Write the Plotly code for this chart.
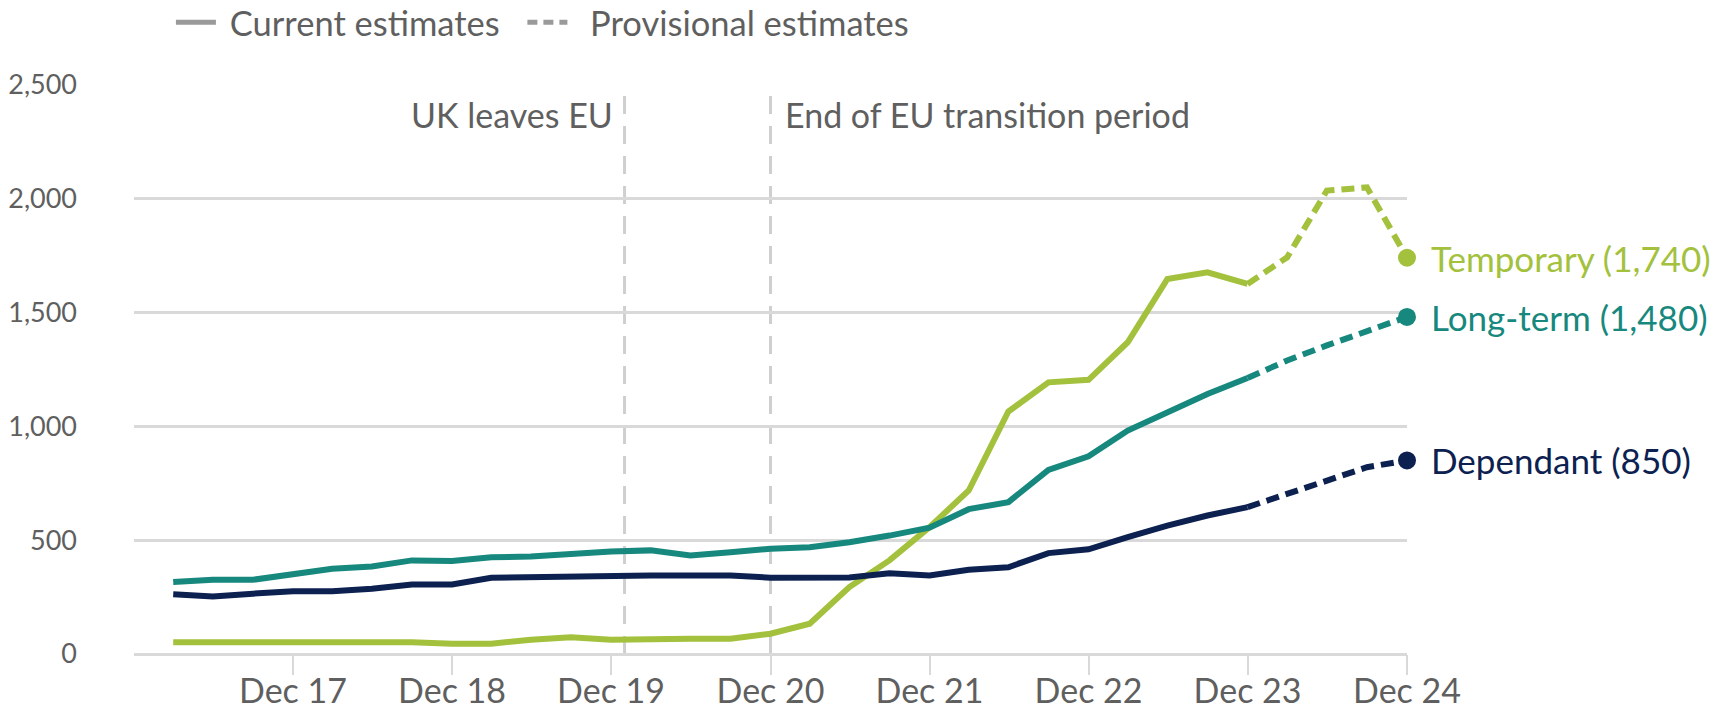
import plotly.graph_objects as go

# quarter-end dates, Mar 2017 to Dec 2024
quarters = [
    "2017-03-31", "2017-06-30", "2017-09-30", "2017-12-31",
    "2018-03-31", "2018-06-30", "2018-09-30", "2018-12-31",
    "2019-03-31", "2019-06-30", "2019-09-30", "2019-12-31",
    "2020-03-31", "2020-06-30", "2020-09-30", "2020-12-31",
    "2021-03-31", "2021-06-30", "2021-09-30", "2021-12-31",
    "2022-03-31", "2022-06-30", "2022-09-30", "2022-12-31",
    "2023-03-31", "2023-06-30", "2023-09-30", "2023-12-31",
    "2024-03-31", "2024-06-30", "2024-09-30", "2024-12-31",
]
# last 4 quarters are provisional
n_provisional = 4

temporary = [52, 52, 52, 52, 52, 52, 52, 45, 45, 63, 74, 63,
             67, 67, 67, 89, 133, 294, 411, 557, 718, 1065, 1193, 1204,
             1369, 1647, 1676, 1625, 1742, 2035, 2049, 1740]
long_term = [316, 326, 326, 352, 374, 384, 411, 408, 425, 428, 440, 450,
             455, 433, 447, 462, 469, 491, 520, 555, 636, 667, 808, 868,
             981, 1062, 1142, 1212, 1289, 1355, 1420, 1480]
dependant = [262, 253, 265, 276, 276, 287, 305, 305, 335, 338, 345, 345,
             345, 345, 345, 335, 335, 336, 355, 345, 370, 381, 443, 460,
             513, 564, 608, 645, 703, 755, 820, 850]

series_names = ["Temporary", "Long-term", "Dependant"]
series_values = [temporary, long_term, dependant]
series_colors = ["#a3c13c", "#17887e", "#0c2150"]

events = ["2020-01-31", "2020-12-31"]
event_labels = ["UK leaves EU", "End of EU transition period"]

tick_dates = ["2017-12-31", "2018-12-31", "2019-12-31", "2020-12-31",
              "2021-12-31", "2022-12-31", "2023-12-31", "2024-12-31"]
tick_labels = ["Dec 17", "Dec 18", "Dec 19", "Dec 20",
               "Dec 21", "Dec 22", "Dec 23", "Dec 24"]

FONT = "Lato"
GREY_TXT = "#5f5f5f"
GRID = "#d9d9d9"

fig = go.Figure()

split = len(quarters) - n_provisional - 1
for name, vals, col in zip(series_names, series_values, series_colors):
    fig.add_trace(go.Scatter(x=quarters[:split + 1], y=vals[:split + 1], mode="lines",
                             line=dict(color=col, width=6), showlegend=False,
                             hoverinfo="skip"))
    fig.add_trace(go.Scatter(x=quarters[split:], y=vals[split:], mode="lines",
                             line=dict(color=col, width=6, dash="13px,7px"),
                             showlegend=False, hoverinfo="skip"))
    fig.add_trace(go.Scatter(x=[quarters[-1]], y=[vals[-1]], mode="markers",
                             marker=dict(color=col, size=18), showlegend=False,
                             cliponaxis=False, hoverinfo="skip"))
    fig.add_annotation(x=quarters[-1], y=vals[-1], text=f"{name} ({vals[-1]:,})",
                       showarrow=False, xanchor="left", xshift=22,
                       font=dict(family=FONT, size=35, color=col))

# legend-only entries
fig.add_trace(go.Scatter(x=[None], y=[None], mode="lines",
                         name="\u00a0Current estimates\u00a0\u00a0",
                         line=dict(color="#9a9a9a", width=5)))
fig.add_trace(go.Scatter(x=[None], y=[None], mode="lines",
                         name="\u00a0\u00a0Provisional estimates",
                         line=dict(color="#9a9a9a", width=5, dash="10px,6px")))

for d, lab, side in zip(events, event_labels, ["right", "left"]):
    fig.add_shape(type="line", xref="x", yref="y", x0=d, x1=d, y0=0, y1=2500,
                  line=dict(color="#cfcfcf", width=3, dash="18px,12px"), layer="below")
    fig.add_annotation(x=d, y=2370, text=lab, showarrow=False, xanchor=side,
                       xshift=-10 if side == "right" else 12,
                       font=dict(family=FONT, size=34, color=GREY_TXT))

fig.update_xaxes(
    type="date", automargin=False,
    range=["2016-12-31", "2024-12-31"],
    tickmode="array", tickvals=tick_dates, ticktext=tick_labels,
    showgrid=False, showline=False, zeroline=False,
    ticks="outside", ticklen=20, tickwidth=2, tickcolor=GRID,
    ticklabelstandoff=-13,
    tickfont=dict(family=FONT, size=34, color=GREY_TXT),
)
fig.update_yaxes(
    automargin=False,
    range=[0, 2503], tickvals=[0, 500, 1000, 1500, 2000, 2500], tickformat=",",
    showgrid=True, gridcolor=GRID, gridwidth=3,
    zeroline=True, zerolinecolor=GRID, zerolinewidth=3,
    showline=False, ticks="", ticklabelstandoff=56,
    tickfont=dict(family=FONT, size=27, color=GREY_TXT),
)
fig.update_layout(
    width=1734, height=709,
    margin=dict(l=126, r=335, t=76, b=63, autoexpand=False),
    plot_bgcolor="white", paper_bgcolor="white",
    showlegend=True,
    legend=dict(orientation="h", x=0.029, y=1.108, xanchor="left", yanchor="middle",
                font=dict(family=FONT, size=34.5, color=GREY_TXT),
                itemwidth=40, traceorder="normal", bgcolor="rgba(0,0,0,0)"),
)

fig.write_html("out.html")
